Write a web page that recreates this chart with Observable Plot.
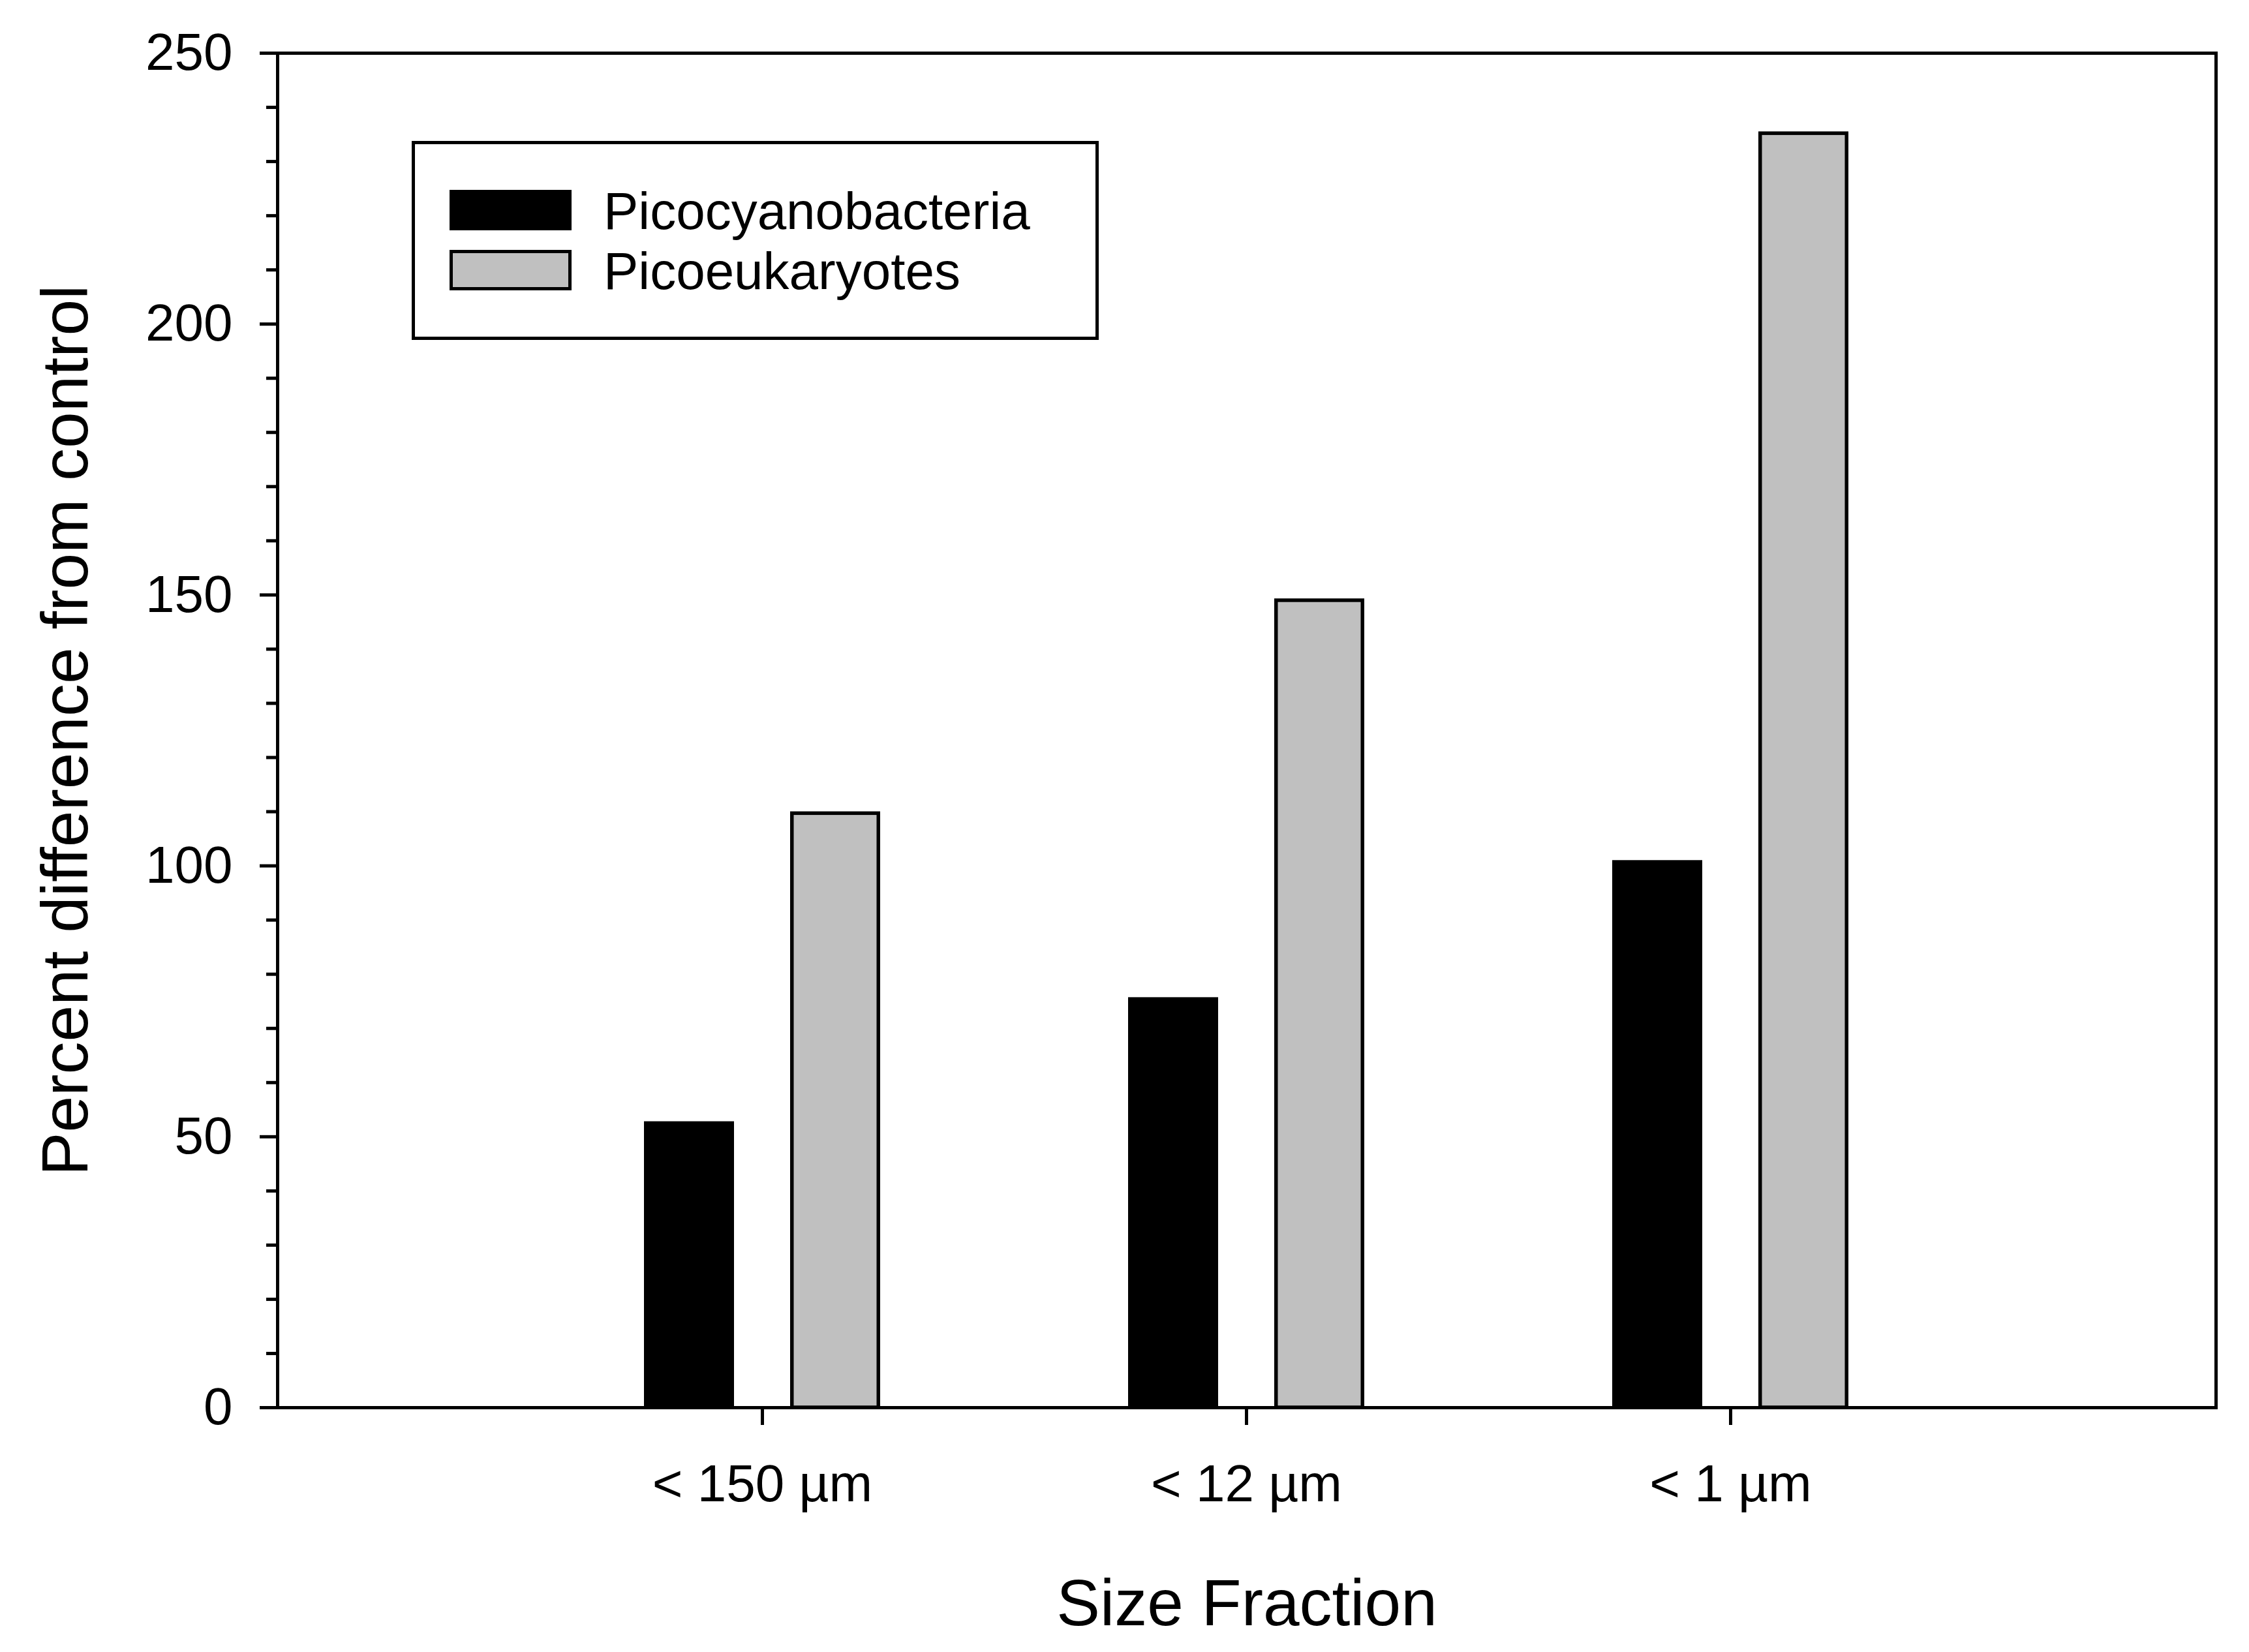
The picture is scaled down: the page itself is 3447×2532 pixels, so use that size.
<!DOCTYPE html>
<html>
<head>
<meta charset="utf-8">
<script src="https://cdn.jsdelivr.net/npm/d3@7"></script>
<script src="https://cdn.jsdelivr.net/npm/@observablehq/plot@0.6"></script>
<style>
  html, body { margin: 0; padding: 0; background: white; overflow: hidden; }
  #wrap { position: relative; width: 3447px; height: 2532px; font-family: 'Liberation Sans', Arial, sans-serif; }
  #legend { position: absolute; left: 631px; top: 216px; width: 1053px; height: 305px; border: 5px solid black; box-sizing: border-box; background: white; }
  .item { position: absolute; left: 53px; height: 62px; display: flex; align-items: center; }
  .sw { width: 187px; height: 62px; box-sizing: border-box; }
  .lab { position: absolute; left: 236px; top: 2px; font-size: 80px; line-height: 62px; white-space: nowrap; color: black; }
</style>
</head>
<body>
<div id="wrap"></div>
<script>
const categories = ["< 150 µm", "< 12 µm", "< 1 µm"];
const seriesNames = ["Picocyanobacteria", "Picoeukaryotes"];
const picocyanobacteria = [52.8, 75.7, 101.0];
const picoeukaryotes = [110.0, 149.3, 235.5];
const yTicks = [0, 50, 100, 150, 200, 250];
const yMinorTicks = [10, 20, 30, 40, 60, 70, 80, 90, 110, 120, 130, 140, 160, 170, 180, 190, 210, 220, 230, 240];
const xTitle = "Size Fraction";
const yTitle = "Percent difference from control";

const cyanoRows = categories.map((c, i) => ({category: c, value: picocyanobacteria[i]}));
const eukRows = categories.map((c, i) => ({category: c, value: picoeukaryotes[i]}));

const chart = Plot.plot({
  width: 3447,
  height: 2532,
  marginLeft: 425,
  marginTop: 81,
  marginRight: 51,
  marginBottom: 375,
  style: {fontFamily: "'Liberation Sans', Arial, sans-serif", fontSize: "80px", color: "black", background: "white", overflow: "visible"},
  x: {type: "band", domain: categories, paddingInner: 0.814, paddingOuter: 0.907},
  y: {domain: [0, 250]},
  marks: [
    Plot.barY(cyanoRows, {x: "category", y: "value", fill: "black", dx: -112}),
    Plot.barY(eukRows, {x: "category", y: "value", fill: "#c0c0c0", stroke: "black", strokeWidth: 5.5, dx: 112, insetLeft: 2.75, insetRight: 2.75, insetTop: 2.75}),
    Plot.axisY({ticks: yMinorTicks, tickSize: 17, tickFormat: () => "", label: null, strokeWidth: 5}),
    Plot.axisY({ticks: yTicks, tickSize: 27, tickPadding: 42, fontSize: 80, label: null, strokeWidth: 5}),
    Plot.axisX({tickSize: 27, tickPadding: 60, fontSize: 80, label: null, strokeWidth: 5}),
    Plot.text([yTitle], {text: d => d, frameAnchor: "left", textAnchor: "middle", lineAnchor: "middle", rotate: -90, dx: -324, fontSize: 100, fill: "black"}),
    Plot.text([xTitle], {text: d => d, frameAnchor: "bottom", textAnchor: "middle", lineAnchor: "bottom", dy: 333, fontSize: 100, fill: "black"}),
    Plot.frame({stroke: "black", strokeWidth: 5})
  ]
});

const wrap = document.getElementById("wrap");
wrap.appendChild(chart);

const legend = document.createElement("div");
legend.id = "legend";
const swatchStyles = [
  {background: "black", border: "none"},
  {background: "#c0c0c0", border: "5px solid black"}
];
const itemTops = [70, 162];
seriesNames.forEach((name, i) => {
  const item = document.createElement("div");
  item.className = "item";
  item.style.top = itemTops[i] + "px";
  const sw = document.createElement("div");
  sw.className = "sw";
  sw.style.background = swatchStyles[i].background;
  sw.style.border = swatchStyles[i].border;
  const lab = document.createElement("div");
  lab.className = "lab";
  lab.textContent = name;
  item.appendChild(sw);
  item.appendChild(lab);
  legend.appendChild(item);
});
wrap.appendChild(legend);
</script>
</body>
</html>
